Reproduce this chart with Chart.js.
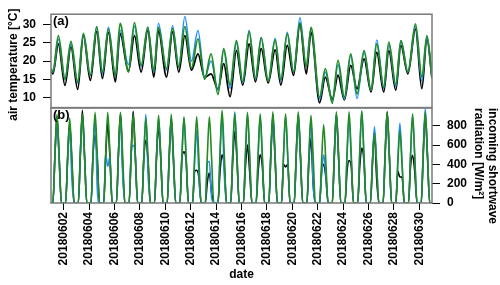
<!DOCTYPE html>
<html>
<head>
<meta charset="utf-8">
<script src="https://cdn.jsdelivr.net/npm/chart.js@4.4.1/dist/chart.umd.min.js"></script>
<style>
  html, body { margin: 0; padding: 0; background: #fff; }
  #wrap { position: relative; width: 500px; height: 285px; }
  canvas { position: absolute; left: 0; top: 0; }
</style>
</head>
<body>
<div id="wrap">
  <canvas id="radChart" width="500" height="285"></canvas>
  <canvas id="tempChart" width="500" height="140"></canvas>
</div>
<script>
// x axis is "days since 2018-06-01 00:00"
const tickDays = [1, 3, 5, 7, 9, 11, 13, 15, 17, 19, 21, 23, 25, 27, 29];
const dateLabels = ['20180602', '20180604', '20180606', '20180608', '20180610', '20180612', '20180614',
  '20180616', '20180618', '20180620', '20180622', '20180624', '20180626', '20180628', '20180630'];

// (a) air temperature, read at daily min / max
const tempTicks = [10, 15, 20, 25, 30];
const tempDays = [0, 0.15, 0.58, 1.1, 1.57, 2.1, 2.55, 3.1, 3.6, 4.05, 4.52, 5.07, 5.44, 6.1, 6.57,
  7.1, 7.62, 8.1, 8.46, 9.1, 9.57, 10.06, 10.54, 11.06, 11.57, 12.1, 12.6, 13.15, 13.6, 14.1, 14.6,
  15.1, 15.6, 16.1, 16.55, 17.1, 17.65, 18.1, 18.6, 19.1, 19.6, 20.1, 20.48, 21.15, 21.6, 22.15, 22.6,
  23.1, 23.6, 24.1, 24.65, 25.2, 25.65, 26.2, 26.6, 27.15, 27.55, 28.1, 28.7, 29.2, 29.6, 30];
const tempBlack = [17.5, 16.5, 24.7, 13.3, 24.0, 12.2, 27.1, 14.7, 28.2, 15.2, 27.9, 14.3, 27.6, 17.2, 27.0,
  17.0, 28.4, 15.6, 28.4, 15.6, 28.0, 17.0, 27.0, 17.5, 22.0, 15.5, 16.5, 12.2, 19.3, 10.2, 22.9,
  13.4, 24.7, 14.3, 23.4, 14.0, 23.1, 13.4, 24.3, 16.1, 30.2, 16.5, 27.9, 8.5, 15.6, 9.5, 16.1,
  9.3, 18.8, 12.4, 20.6, 11.5, 22.4, 11.5, 22.9, 12.0, 24.3, 16.5, 28.8, 12.4, 26.1, 15.3];
const tempBlue = [18, 17, 26, 15, 24.8, 14, 27.3, 16, 29.5, 16.5, 29.4, 16, 28.5, 19, 29.5,
  18.5, 29.3, 17, 30.4, 17.5, 29.7, 18.5, 32.3, 20, 28.4, 15.5, 20, 12, 23, 12.5, 25,
  14, 28.5, 15, 26.5, 14.5, 26.2, 14.5, 27.9, 17, 32.0, 18.5, 29.0, 9.5, 17, 9, 19,
  9.5, 21.5, 9.7, 22.5, 12, 25.8, 12.5, 24.5, 13, 25.6, 17, 29.5, 14.5, 26.5, 15.5];
const tempGreen = [18, 17, 27.0, 15.0, 25.4, 14.3, 27.6, 16.1, 29.4, 17.0, 28.8, 16.0, 30.4, 17.0, 30.6,
  18.8, 29.3, 17.4, 29.3, 17.8, 29.0, 18.3, 29.5, 18, 26.1, 15.0, 22.0, 10.8, 23.4, 13.4, 25.6,
  14.3, 28.2, 15.2, 26.4, 14.5, 25.8, 14.8, 27.5, 17.0, 30.6, 18.5, 29.3, 10.0, 17.9, 8.4, 20.2,
  10.0, 22.0, 11.0, 22.9, 12.0, 24.7, 12.8, 25.2, 13.5, 25.6, 17.0, 30.2, 15.6, 27.0, 15.5];

// (b) shortwave radiation: each day is zero at night, [morning, midday, afternoon] in daytime
const radTicks = [0, 200, 400, 600, 800];
const radDayFrac = [0.15, 0.31, 0.47, 0.64, 0.82]; // sunrise, morning, midday, afternoon, sunset
const radGreen = [[500, 920, 490], [480, 880, 470], [510, 925, 500], [515, 940, 505], [515, 940, 505],
  [515, 940, 505], [505, 920, 495], [480, 880, 470], [500, 910, 490], [505, 920, 495],
  [490, 895, 480], [490, 895, 480], [490, 895, 480], [525, 960, 515], [510, 930, 500],
  [515, 940, 505], [505, 925, 495], [520, 945, 510], [505, 925, 495], [520, 945, 510],
  [500, 910, 490], [440, 810, 430], [520, 945, 510], [520, 945, 510], [525, 955, 515],
  [400, 725, 390], [520, 945, 510], [410, 755, 400], [505, 925, 495], [520, 945, 510]];
const radBlue = [[490, 880, 460], [470, 760, 250], [495, 900, 480], [500, 900, 150], [505, 380, 480],
  [500, 900, 300], [500, 600, 480], [490, 920, 300], [490, 880, 480], [490, 880, 460],
  [480, 880, 460], [420, 755, 300], [420, 430, 60], [500, 930, 300], [515, 946, 495],
  [500, 920, 480], [490, 900, 470], [500, 920, 490], [490, 900, 480], [500, 920, 490],
  [480, 880, 200], [300, 500, 300], [500, 920, 490], [480, 880, 460], [515, 945, 490],
  [430, 790, 420], [505, 930, 490], [450, 828, 440], [490, 900, 480], [535, 980, 510]];
const radBlack = [[490, 900, 470], [460, 820, 440], [500, 960, 490], [500, 700, 460], [500, 820, 470],
  [510, 930, 380], [510, 950, 480], [460, 650, 440], [480, 800, 470], [480, 870, 440],
  [470, 530, 440], [330, 340, 270], [220, 310, 110], [330, 500, 380], [440, 740, 460],
  [380, 600, 330], [330, 500, 380], [490, 880, 470], [400, 374, 400], [490, 910, 480],
  [440, 670, 200], [330, 400, 270], [490, 920, 480], [330, 440, 380], [380, 570, 440],
  [420, 738, 260], [500, 945, 490], [330, 270, 270], [380, 495, 330], [500, 920, 490]];

const FONT = "'Liberation Sans', Arial, sans-serif";
Chart.defaults.font.family = FONT;
Chart.defaults.font.size = 12;
Chart.defaults.font.weight = 'bold';
Chart.defaults.color = '#000';

const colBlack = '#000000';
const colBlue = '#1e90ff';
const colGreen = '#228b22';

function tempPoints(vals) {
  return tempDays.map((d, i) => ({ x: d, y: vals[i] }));
}
function radPoints(days) {
  const pts = [{ x: 0, y: 0 }];
  days.forEach((v, d) => {
    pts.push({ x: d + radDayFrac[0], y: 0 });
    pts.push({ x: d + radDayFrac[1], y: v[0] });
    pts.push({ x: d + radDayFrac[2], y: v[1] });
    pts.push({ x: d + radDayFrac[3], y: v[2] });
    pts.push({ x: d + radDayFrac[4], y: 0 });
  });
  pts.push({ x: 30, y: 0 });
  return pts;
}
function line(data, color, width, order) {
  return { data, borderColor: color, borderWidth: width, pointRadius: 0, fill: false,
    cubicInterpolationMode: 'monotone', order };
}

// gray box round the panel + panel letter
const framePlugin = {
  id: 'frame',
  afterDatasetsDraw(chart, args, opts) {
    const { ctx, chartArea: a, scales } = chart;
    const bottom = opts.bottomValue != null ? scales.y.getPixelForValue(opts.bottomValue) : a.bottom;
    ctx.save();
    ctx.strokeStyle = '#7a7a7a';
    ctx.lineWidth = 1.5;
    ctx.strokeRect(a.left, a.top, a.right - a.left, bottom - a.top);
    ctx.fillStyle = '#000';
    ctx.font = 'bold 13px ' + FONT;
    ctx.textBaseline = 'top';
    ctx.fillText(opts.label, a.left + 2, a.top + 1);
    ctx.restore();
  }
};

const tickGrid = { drawOnChartArea: false, drawTicks: true, tickLength: 8, color: '#000', lineWidth: 1 };

new Chart(document.getElementById('tempChart'), {
  type: 'line',
  data: { datasets: [
    line(tempPoints(tempGreen), colGreen, 1.8, 0),
    line(tempPoints(tempBlue), colBlue, 1.5, 1),
    line(tempPoints(tempBlack), colBlack, 1.8, 2)
  ] },
  options: {
    responsive: false, animation: false, devicePixelRatio: 1,
    layout: { padding: { top: 13, right: 68, bottom: 25, left: 0 } },
    plugins: { legend: { display: false }, tooltip: { enabled: false },
      frame: { label: '(a)', bottomValue: 7.2 } },
    scales: {
      x: { type: 'linear', min: 0, max: 30, display: false },
      y: {
        position: 'left', min: 5.16, max: 32.9,
        afterBuildTicks: s => { s.ticks = tempTicks.map(v => ({ value: v })); },
        afterFit: s => { s.width = 51; },
        grid: tickGrid,
        border: { display: false },
        ticks: { padding: 7, font: { size: 12, weight: 'bold' } },
        title: { display: true, text: 'air temperature [°C]', padding: { top: 6, bottom: 0 },
          font: { size: 12, weight: 'bold' } }
      }
    }
  },
  plugins: [framePlugin]
});

new Chart(document.getElementById('radChart'), {
  type: 'line',
  data: { datasets: [
    line(radPoints(radGreen), colGreen, 1.6, 0),
    line(radPoints(radBlue), colBlue, 1.5, 1),
    line(radPoints(radBlack), colBlack, 1.6, 2)
  ] },
  options: {
    responsive: false, animation: false, devicePixelRatio: 1,
    layout: { padding: { top: 108, right: 0, bottom: 0, left: 51 } },
    plugins: { legend: { display: false }, tooltip: { enabled: false },
      frame: { label: '(b)' } },
    scales: {
      x: {
        type: 'linear', min: 0, max: 30,
        afterBuildTicks: s => { s.ticks = tickDays.map(v => ({ value: v })); },
        afterFit: s => { s.height = 82; },
        grid: Object.assign({}, tickGrid, { tickLength: 7 }),
        border: { display: false },
        ticks: { autoSkip: false, maxRotation: 90, minRotation: 90, padding: 2,
          callback: (v, i) => dateLabels[i], font: { size: 12, weight: 'bold' } },
        title: { display: true, text: 'date', padding: { top: 0, bottom: 3 },
          font: { size: 12, weight: 'bold' } }
      },
      y: {
        position: 'right', min: 0, max: 985,
        afterBuildTicks: s => { s.ticks = radTicks.map(v => ({ value: v })); },
        afterFit: s => { s.width = 68; },
        grid: tickGrid,
        border: { display: false },
        ticks: { padding: 7, font: { size: 12, weight: 'bold' } },
        title: { display: true, text: ['incoming shortwave', 'radiation [W/m²]'], align: 'end',
          padding: { top: 1, bottom: 0 }, font: { size: 12, weight: 'bold', lineHeight: 1.15 } }
      }
    }
  },
  plugins: [framePlugin]
});
</script>
</body>
</html>
